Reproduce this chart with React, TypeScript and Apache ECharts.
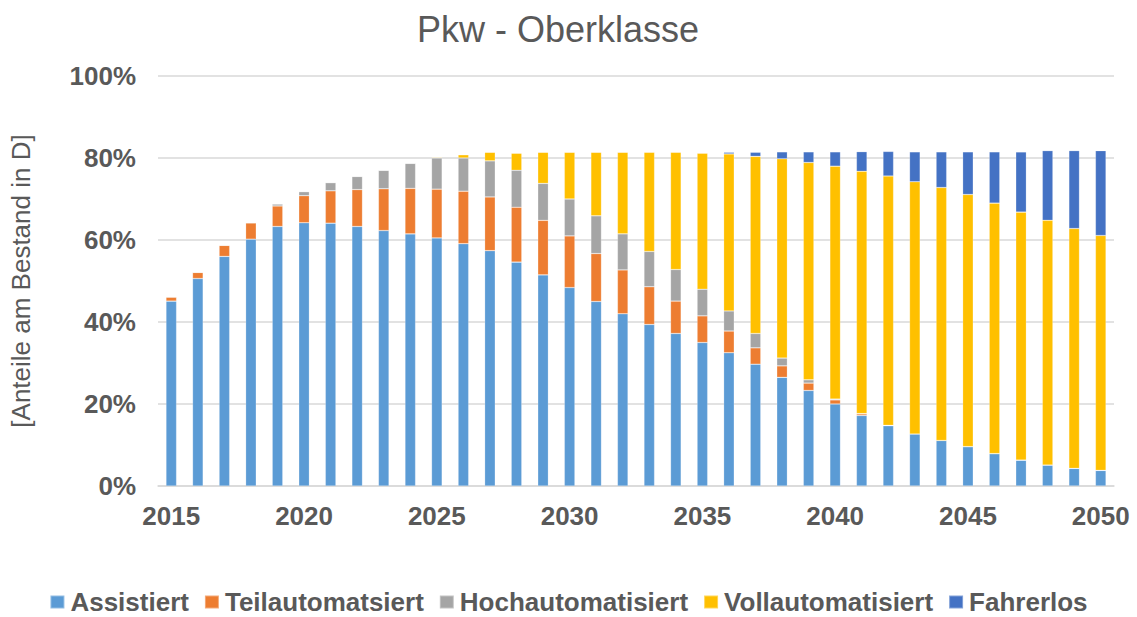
import React, { useEffect, useRef } from "react";
import * as echarts from "echarts";

const years: string[] = Array.from({ length: 36 }, (_, i) => String(2015 + i));

const assistiert = [45.1, 50.6, 56.0, 60.2, 63.3, 64.2, 64.1, 63.3, 62.3, 61.5, 60.5, 59.1, 57.4, 54.6, 51.5, 48.4, 45.0, 42.0, 39.4, 37.2, 35.0, 32.5, 29.7, 26.5, 23.3, 20.0, 17.2, 14.7, 12.7, 11.1, 9.6, 7.9, 6.3, 5.1, 4.3, 3.8];
const teilautomatisiert = [1.0, 1.5, 2.7, 4.0, 5.0, 6.6, 7.9, 9.0, 10.2, 11.1, 11.9, 12.8, 13.1, 13.4, 13.3, 12.6, 11.7, 10.7, 9.2, 7.9, 6.5, 5.3, 4.0, 2.8, 1.8, 1.0, 0.4, 0.1, 0, 0, 0, 0, 0, 0, 0, 0];
const hochautomatisiert = [0, 0, 0, 0, 0.5, 1.0, 2.0, 3.2, 4.5, 6.1, 7.6, 8.1, 8.8, 9.0, 9.0, 9.0, 9.2, 8.8, 8.6, 7.7, 6.5, 4.9, 3.5, 1.9, 0.8, 0.2, 0.05, 0, 0, 0, 0, 0, 0, 0, 0, 0];
const vollautomatisiert = [0, 0, 0, 0, 0, 0, 0, 0, 0, 0, 0.2, 0.8, 2.1, 4.2, 7.6, 11.4, 15.5, 19.9, 24.2, 28.6, 33.2, 38.3, 43.2, 48.6, 53.0, 56.8, 59.1, 60.8, 61.5, 61.7, 61.5, 61.1, 60.5, 59.7, 58.5, 57.3];
const fahrerlos = [0, 0, 0, 0, 0, 0, 0, 0, 0, 0, 0, 0, 0, 0, 0, 0, 0, 0, 0, 0, 0.1, 0.4, 1.0, 1.7, 2.6, 3.5, 4.8, 6.0, 7.3, 8.7, 10.4, 12.5, 14.7, 17.0, 19.0, 20.7];

const seriesNames = ["Assistiert", "Teilautomatsiert", "Hochautomatisiert", "Vollautomatisiert", "Fahrerlos"];
const seriesData = [assistiert, teilautomatisiert, hochautomatisiert, vollautomatisiert, fahrerlos];
const colors = ["#5B9BD5", "#ED7D31", "#A5A5A5", "#FFC000", "#4472C4"];

const FONT = "'Liberation Sans', Arial, sans-serif";
const TEXT = "#595959";

export default function App() {
  const ref = useRef<HTMLDivElement>(null);
  useEffect(() => {
    if (!ref.current) return;
    const chart = echarts.init(ref.current, undefined, { renderer: "svg" });
    chart.setOption({
      animation: false,
      color: colors,
      title: {
        text: "Pkw - Oberklasse",
        left: 412,
        top: 6,
        textStyle: { fontFamily: FONT, fontSize: 36, fontWeight: "normal", color: TEXT },
      },
      legend: {
        top: 584,
        left: "center",
        itemWidth: 14,
        itemHeight: 13,
        itemGap: 15,
        icon: "rect",
        textStyle: { fontFamily: FONT, fontSize: 26, fontWeight: "bold", color: TEXT, padding: [0, 0, 0, 1] },
        data: seriesNames,
      },
      grid: { left: 153, right: 23, top: 76, bottom: 131, containLabel: false },
      xAxis: {
        type: "category",
        data: years,
        axisTick: { show: false },
        axisLine: { lineStyle: { color: "#D9D9D9", width: 1.5 } },
        axisLabel: {
          interval: 4,
          margin: 17,
          fontFamily: FONT,
          fontSize: 26,
          fontWeight: "bold",
          color: TEXT,
        },
      },
      yAxis: {
        type: "value",
        min: 0,
        max: 100,
        interval: 20,
        name: "[Anteile am Bestand in D]",
        nameLocation: "middle",
        nameGap: 124,
        nameTextStyle: { fontFamily: FONT, fontSize: 26, color: TEXT, padding: [0, 0, 0, 0] },
        axisLine: { show: false },
        axisTick: { show: false },
        splitLine: { lineStyle: { color: "#D9D9D9", width: 1.5 } },
        axisLabel: {
          formatter: "{value}%",
          margin: 22,
          fontFamily: FONT,
          fontSize: 26,
          fontWeight: "bold",
          color: TEXT,
        },
      },
      series: seriesNames.map((name, i) => ({
        name,
        type: "bar",
        stack: "total",
        barWidth: "40%",
        data: seriesData[i],
        itemStyle: { color: colors[i], borderColor: "rgba(255,255,255,0.35)", borderWidth: 0.6 },
      })),
    });
    return () => chart.dispose();
  }, []);
  return <div ref={ref} style={{ width: 1137, height: 617, position: "absolute", left: 0, top: 0 }} />;
}
